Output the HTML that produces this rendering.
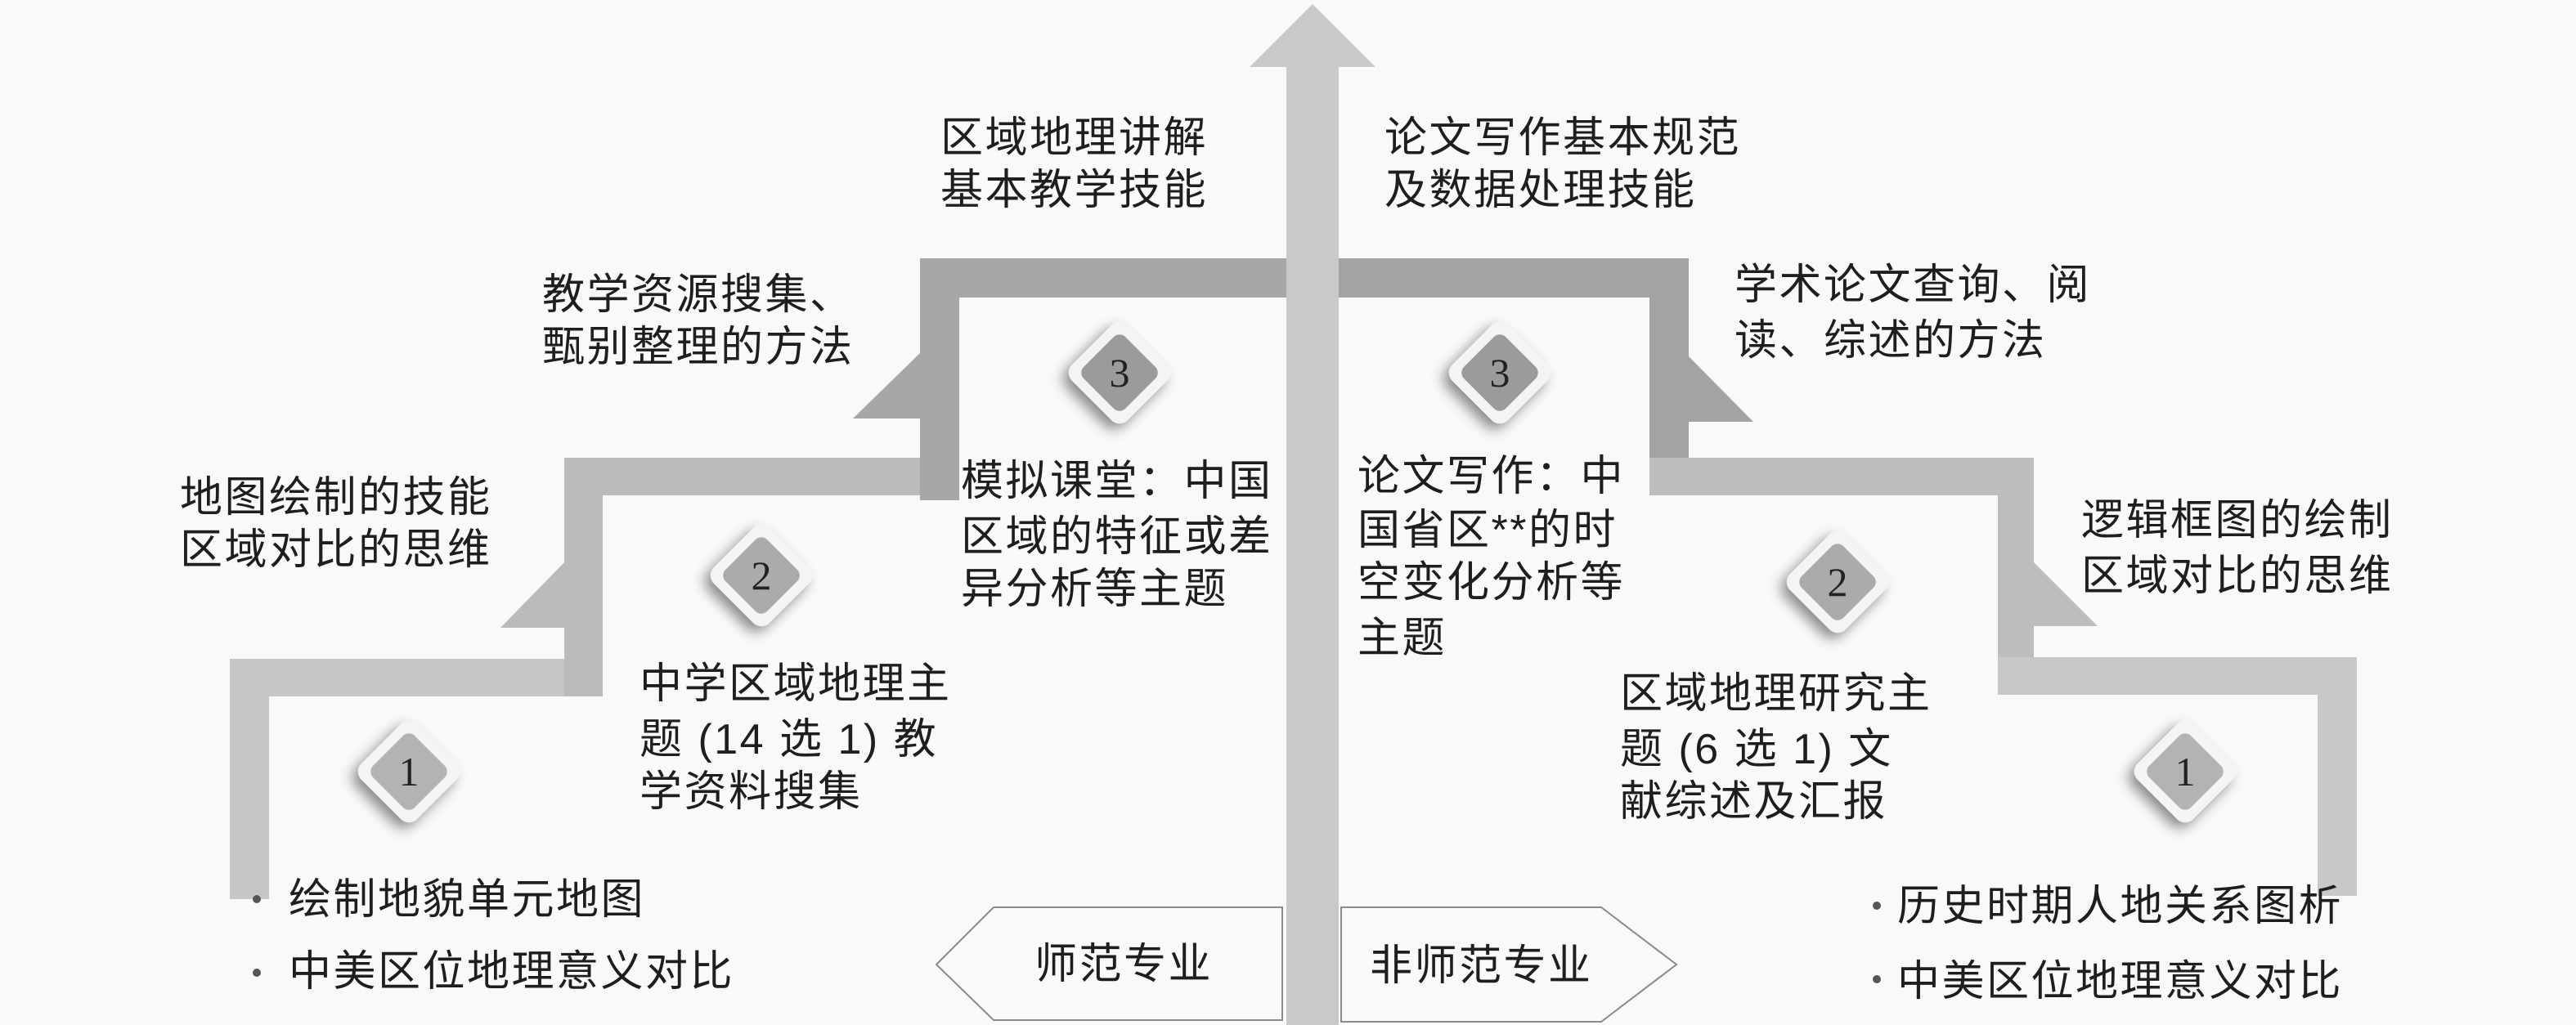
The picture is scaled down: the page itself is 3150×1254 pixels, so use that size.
<!DOCTYPE html>
<html><head><meta charset="utf-8"><style>
html,body{margin:0;padding:0;background:#f9f9f9;}
svg{display:block;}
text{font-family:"Liberation Sans","Noto Sans CJK SC",sans-serif;font-size:52px;fill:#1e1e1e;letter-spacing:2.5px;}
.n{font-family:"Liberation Serif",serif;font-size:50px;fill:#222;letter-spacing:0;}
</style></head><body>
<svg width="3150" height="1254" viewBox="0 0 3150 1254" xmlns="http://www.w3.org/2000/svg">
<defs>
<filter id="sh" x="-50%" y="-50%" width="200%" height="200%">
<feGaussianBlur in="SourceAlpha" stdDeviation="8"/><feOffset dx="0" dy="10"/>
<feComponentTransfer><feFuncA type="linear" slope="0.45"/></feComponentTransfer>
<feMerge><feMergeNode/><feMergeNode in="SourceGraphic"/></feMerge></filter>
<g id="dia">
<rect x="-48" y="-48" width="96" height="96" rx="14" fill="#f4f4f4" transform="rotate(45)" filter="url(#sh)"/>
</g>
</defs>
<rect width="3150" height="1254" fill="#f9f9f9"/>

<rect x="281" y="806" width="48" height="294" fill="#c6c6c6"/>
<rect x="281" y="806" width="456" height="46" fill="#c6c6c6"/>
<rect x="690" y="560" width="47" height="292" fill="#bbbbbb"/>
<polygon points="690,688 612,768 690,768" fill="#bbbbbb"/>
<rect x="690" y="560" width="483" height="46" fill="#bbbbbb"/>
<rect x="1125" y="316" width="48" height="296" fill="#a7a7a7"/>
<polygon points="1125,432 1043,512 1125,512" fill="#a7a7a7"/>
<rect x="1125" y="316" width="460" height="48" fill="#a7a7a7"/>

<rect x="1620" y="316" width="445" height="48" fill="#a3a3a3"/>
<rect x="2017" y="316" width="48" height="290" fill="#a3a3a3"/>
<polygon points="2065,436 2144,516 2065,516" fill="#a3a3a3"/>
<rect x="2017" y="560" width="470" height="46" fill="#bdbdbd"/>
<rect x="2443" y="560" width="44" height="290" fill="#bdbdbd"/>
<polygon points="2487,688 2565,766 2487,766" fill="#bdbdbd"/>
<rect x="2443" y="804" width="439" height="46" fill="#c8c8c8"/>
<rect x="2834" y="804" width="48" height="292" fill="#c8c8c8"/>

<polygon points="1145,1180 1215,1110 1568,1110 1568,1248 1215,1248" fill="#f9f9f9" stroke="#8a8a8a" stroke-width="2"/>
<polygon points="1640,1110 1958,1110 2050,1180 1958,1250 1640,1250" fill="#f9f9f9" stroke="#8a8a8a" stroke-width="2"/>

<rect x="1573" y="80" width="64" height="1174" fill="#c9c9c9"/>
<polygon points="1528,82 1605,5 1682,82" fill="#c9c9c9"/>

<g transform="translate(500,944)"><use href="#dia"/><rect x="-36" y="-36" width="72" height="72" rx="10" fill="#b3b3b3" transform="rotate(45)"/><text class="n" x="0" y="17" text-anchor="middle">1</text></g>
<g transform="translate(931,704)"><use href="#dia"/><rect x="-36" y="-36" width="72" height="72" rx="10" fill="#ababab" transform="rotate(45)"/><text class="n" x="0" y="17" text-anchor="middle">2</text></g>
<g transform="translate(1369,456)"><use href="#dia"/><rect x="-36" y="-36" width="72" height="72" rx="10" fill="#9b9b9b" transform="rotate(45)"/><text class="n" x="0" y="17" text-anchor="middle">3</text></g>
<g transform="translate(1834,456)"><use href="#dia"/><rect x="-36" y="-36" width="72" height="72" rx="10" fill="#9b9b9b" transform="rotate(45)"/><text class="n" x="0" y="17" text-anchor="middle">3</text></g>
<g transform="translate(2247,712)"><use href="#dia"/><rect x="-36" y="-36" width="72" height="72" rx="10" fill="#ababab" transform="rotate(45)"/><text class="n" x="0" y="17" text-anchor="middle">2</text></g>
<g transform="translate(2672,944)"><use href="#dia"/><rect x="-36" y="-36" width="72" height="72" rx="10" fill="#b3b3b3" transform="rotate(45)"/><text class="n" x="0" y="17" text-anchor="middle">1</text></g>

<text x="1150" y="186">区域地理讲解</text>
<text x="1150" y="250">基本教学技能</text>
<text x="663" y="378">教学资源搜集、</text>
<text x="663" y="442">甄别整理的方法</text>
<text x="220" y="626">地图绘制的技能</text>
<text x="220" y="690">区域对比的思维</text>
<text x="1175" y="606">模拟课堂：中国</text>
<text x="1175" y="674">区域的特征或差</text>
<text x="1175" y="738">异分析等主题</text>
<text x="782" y="854">中学区域地理主</text>
<text x="782" y="922">题 (14 选 1) 教</text>
<text x="782" y="986">学资料搜集</text>
<circle cx="314" cy="1100" r="5" fill="#555"/>
<text x="353" y="1118">绘制地貌单元地图</text>
<circle cx="314" cy="1190" r="5" fill="#555"/>
<text x="353" y="1206">中美区位地理意义对比</text>
<text x="1265" y="1197">师范专业</text>

<text x="1693" y="186">论文写作基本规范</text>
<text x="1693" y="250">及数据处理技能</text>
<text x="2121" y="366">学术论文查询、阅</text>
<text x="2121" y="434">读、综述的方法</text>
<text x="1660" y="600">论文写作：中</text>
<text x="1660" y="666">国省区**的时</text>
<text x="1660" y="730">空变化分析等</text>
<text x="1660" y="798">主题</text>
<text x="2545" y="654">逻辑框图的绘制</text>
<text x="2545" y="722">区域对比的思维</text>
<text x="1981" y="866">区域地理研究主</text>
<text x="1981" y="934">题 (6 选 1) 文</text>
<text x="1981" y="998">献综述及汇报</text>
<circle cx="2295" cy="1108" r="5" fill="#555"/>
<text x="2320" y="1126">历史时期人地关系图析</text>
<circle cx="2295" cy="1198" r="5" fill="#555"/>
<text x="2320" y="1218">中美区位地理意义对比</text>
<text x="1675" y="1199">非师范专业</text>
</svg>
</body></html>
